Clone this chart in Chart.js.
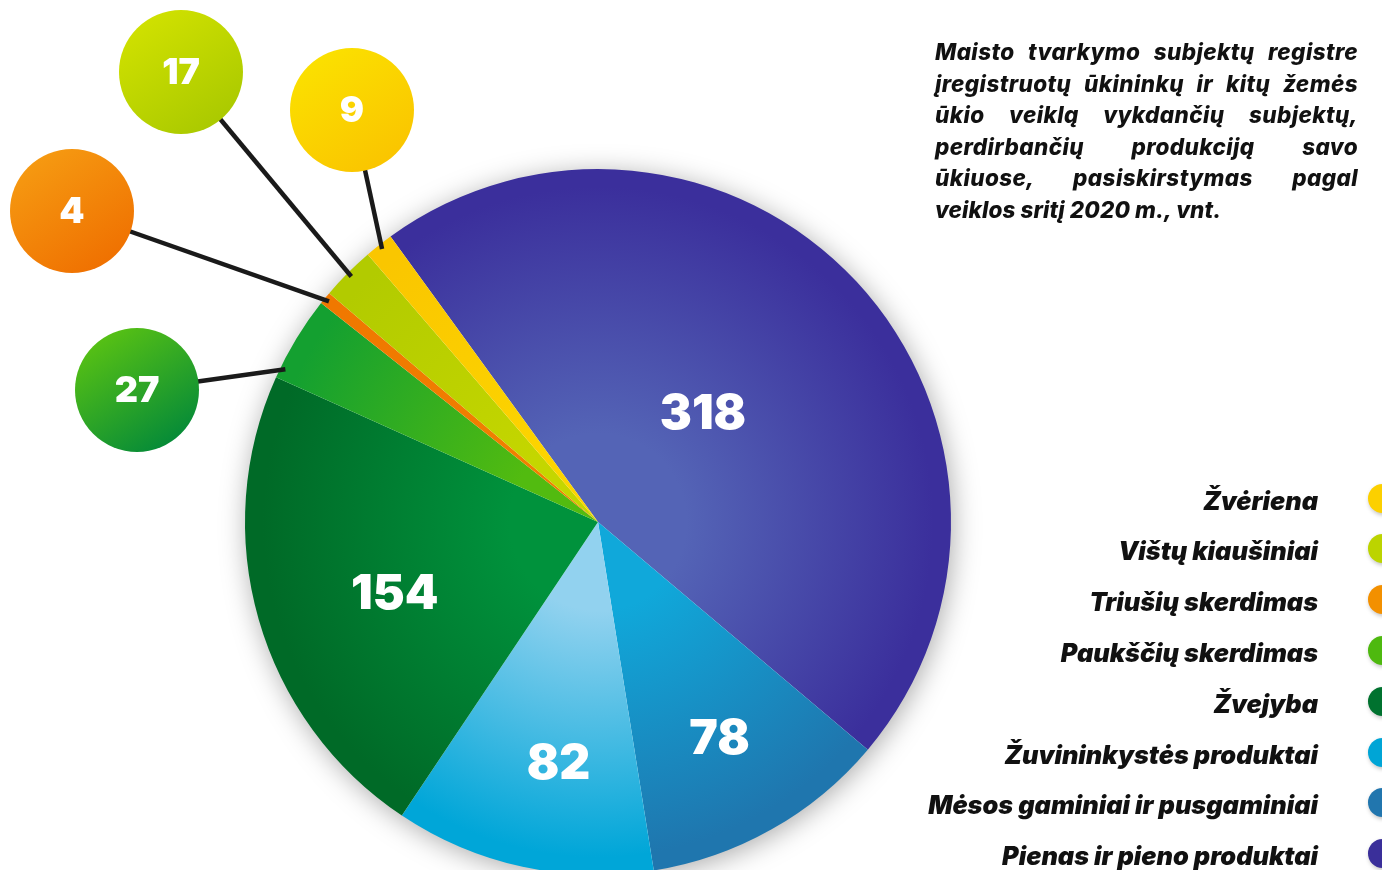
<!DOCTYPE html>
<html lang="lt">
<head>
<meta charset="utf-8">
<script src="https://cdn.jsdelivr.net/npm/chart.js@4"></script>
<style>
  html, body { margin: 0; padding: 0; background: #fff; overflow: hidden; }
  body { width: 1382px; height: 870px; position: relative; font-family: Inter, "Noto Sans", sans-serif; }
  #wrap { position: absolute; left: 0; top: 0; width: 1382px; height: 900px; }
  #title {
    position: absolute; left: 935px; top: 36px; width: 423px;
    font-weight: 800; font-style: italic; font-size: 22.5px; letter-spacing: 0.4px; line-height: 31.6px; color: #111;
  }
  #title span { display: block; text-align: justify; text-align-last: justify; white-space: nowrap; }
  #title span.last { text-align-last: left; letter-spacing: 0.1px; }
  #legend { position: absolute; right: 0; top: 480px; width: 500px; }
  .row { position: absolute; right: 0; height: 36px; display: flex; align-items: center; }
  .row .lbl { font-weight: 900; font-style: italic; font-size: 25.3px; color: #111; margin-right: 35px; padding-top: 4px; }
  .row .dot { width: 29px; height: 29px; border-radius: 50%; box-shadow: 1px 2px 4px rgba(0,0,0,0.25); transform: translateX(15px); }
</style>
</head>
<body>
<div id="wrap"><canvas id="pie"></canvas></div>
<div id="title">
  <span>Maisto tvarkymo subjektų registre</span>
  <span>įregistruotų ūkininkų ir kitų žemės</span>
  <span>ūkio veiklą vykdančių subjektų,</span>
  <span>perdirbančių produkciją savo</span>
  <span>ūkiuose, pasiskirstymas pagal</span>
  <span class="last">veiklos sritį 2020 m., vnt.</span>
</div>
<div id="legend"></div>
<script>
// duomenys (pagal laikrodžio rodyklę nuo viršaus)
const categories = ['Pienas ir pieno produktai', 'Mėsos gaminiai ir pusgaminiai', 'Žuvininkystės produktai', 'Žvejyba', 'Paukščių skerdimas', 'Triušių skerdimas', 'Vištų kiaušiniai', 'Žvėriena'];
const values = [318, 78, 82, 154, 27, 4, 17, 9];
const edgeColors = ['#3b2f9c', '#1f76ae', '#00a6d8', '#006a27', '#14a030', '#f07800', '#b2cb00', '#fac600'];
const innerColors = ['#5464b6', '#10a8da', '#92d2ef', '#00923c', '#52bb10', '#f08000', '#c4d600', '#fcd400'];
const legendColors = ['#fcd000', '#bcd400', '#f39000', '#4eb90f', '#00722f', '#00a5d6', '#2176ae', '#3a2f9a'];

// etiketės: didelės skiltys viduje [spindulio dalis, kampo dalis], mažos - burbuluose
const insideLabelPos = { 0: [0.43, 0.48], 1: [0.70, 0.5], 2: [0.69, 0.43], 3: [0.61, 0.46] };
const bubbleOffsets = { 7: [-246, -412], 6: [-417, -450], 5: [-526, -311], 4: [-461, -132] };
const bubbleAnchor = { 7: 0.5, 6: 0.5, 5: 0.5, 4: 0.13 };
const bubbleColors = { 7: ['#fbe200', '#fac300'], 6: ['#d2e200', '#a8c800'], 5: ['#f69c12', '#ef6e00'], 4: ['#5cc412', '#00873a'] };

// legenda (atvirkštine tvarka)
const legend = document.getElementById('legend');
const legendRows = categories.map((c, i) => i).reverse();
legendRows.forEach((idx, k) => {
  const row = document.createElement('div');
  row.className = 'row';
  row.style.top = (k * 50.8) + 'px';
  row.innerHTML = `<span class="lbl">${categories[idx]}</span><span class="dot" style="background: ${legendColors[k]}"></span>`;
  legend.appendChild(row);
});

const shadowPlugin = {
  id: 'pieShadow',
  beforeDatasetsDraw(chart) {
    const arc = chart.getDatasetMeta(0).data[0];
    const ctx = chart.ctx;
    ctx.save();
    ctx.shadowColor = 'rgba(0,0,0,0.35)';
    ctx.shadowBlur = 28;
    ctx.shadowOffsetX = 2;
    ctx.shadowOffsetY = 4;
    ctx.beginPath();
    ctx.arc(arc.x, arc.y, arc.outerRadius - 1, 0, Math.PI * 2);
    ctx.fillStyle = '#fff';
    ctx.fill();
    ctx.restore();
  }
};

const labelPlugin = {
  id: 'sliceLabels',
  afterDatasetsDraw(chart) {
    const ctx = chart.ctx;
    const meta = chart.getDatasetMeta(0);
    ctx.save();
    ctx.textAlign = 'center';
    ctx.textBaseline = 'middle';
    meta.data.forEach((arc, i) => {
      const span = arc.endAngle - arc.startAngle;
      if (insideLabelPos[i]) {
        const a = arc.startAngle + span * insideLabelPos[i][1];
        const r = arc.outerRadius * insideLabelPos[i][0];
        ctx.fillStyle = '#fff';
        ctx.font = '900 48px Inter, sans-serif';
        ctx.fillText(values[i], arc.x + Math.cos(a) * r, arc.y + Math.sin(a) * r + 2);
      }
      if (bubbleOffsets[i]) {
        const a = arc.startAngle + span * bubbleAnchor[i];
        const bx = arc.x + bubbleOffsets[i][0];
        const by = arc.y + bubbleOffsets[i][1];
        const ex = arc.x + Math.cos(a) * (arc.outerRadius - 5);
        const ey = arc.y + Math.sin(a) * (arc.outerRadius - 5);
        ctx.beginPath();
        ctx.moveTo(bx, by);
        ctx.lineTo(ex, ey);
        ctx.strokeStyle = '#1a1a1a';
        ctx.lineWidth = 4.5;
        ctx.stroke();
        const g = ctx.createLinearGradient(bx - 40, by - 60, bx + 40, by + 60);
        g.addColorStop(0, bubbleColors[i][0]);
        g.addColorStop(1, bubbleColors[i][1]);
        ctx.beginPath();
        ctx.arc(bx, by, 62, 0, Math.PI * 2);
        ctx.fillStyle = g;
        ctx.fill();
        ctx.fillStyle = '#fff';
        ctx.font = '900 36px Inter, sans-serif';
        ctx.fillText(values[i], bx, by + 1);
      }
    });
    ctx.restore();
  }
};

function sliceFill(context) {
  const i = context.dataIndex;
  const area = context.chart.chartArea;
  if (!area) return edgeColors[i];
  const cx = (area.left + area.right) / 2;
  const cy = (area.top + area.bottom) / 2;
  const r = Math.min(area.right - area.left, area.bottom - area.top) / 2;
  const g = context.chart.ctx.createRadialGradient(cx, cy, 0, cx, cy, r);
  g.addColorStop(0, innerColors[i]);
  g.addColorStop(0.25, innerColors[i]);
  g.addColorStop(0.95, edgeColors[i]);
  return g;
}

const canvas = document.getElementById('pie');
canvas.width = 1382;
canvas.height = 900;
new Chart(canvas.getContext('2d'), {
  type: 'pie',
  data: {
    labels: categories,
    datasets: [{
      data: values,
      backgroundColor: sliceFill,
      borderWidth: 0
    }]
  },
  options: {
    responsive: false,
    animation: false,
    rotation: -36,
    layout: { padding: { left: 245, right: 431, top: 169, bottom: 25 } },
    plugins: {
      legend: { display: false },
      tooltip: { enabled: false }
    }
  },
  plugins: [shadowPlugin, labelPlugin]
});
</script>
</body>
</html>
